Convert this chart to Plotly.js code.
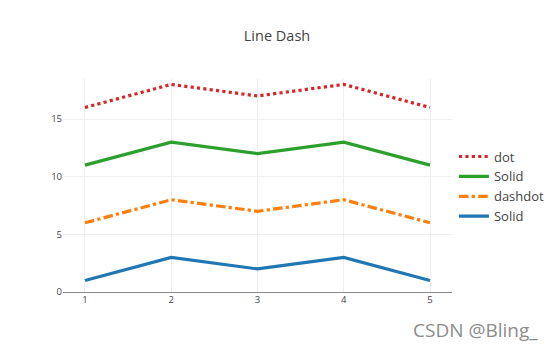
<!DOCTYPE html>
<html>
<head>
<meta charset="utf-8">
<script src="https://cdn.plot.ly/plotly-3.0.1.min.js"></script>
<style>html,body{margin:0;padding:0;background:#fff;}#chart{width:554px;height:356px;}</style>
</head>
<body>
<div id="chart"></div>
<script>
const xValues = [1, 2, 3, 4, 5];
const seriesNames = ["Solid", "dashdot", "Solid", "dot"];
const seriesValues = [
  [1, 3, 2, 3, 1],
  [6, 8, 7, 8, 6],
  [11, 13, 12, 13, 11],
  [16, 18, 17, 18, 16]
];
const seriesColors = ["#1f77b4", "#ff7f0e", "#2ca02c", "#d62728"];
const seriesDash = ["solid", "dashdot", "solid", "dot"];
const yTicks = [0, 5, 10, 15];

const traces = seriesValues.map((ys, i) => ({
  x: xValues,
  y: ys,
  name: seriesNames[i],
  type: "scatter",
  mode: "lines",
  line: {color: seriesColors[i], width: 3.2, dash: seriesDash[i]}
}));

const layout = {
  width: 554,
  height: 356,
  margin: {l: 63, r: 102, t: 79, b: 64, autoexpand: false},
  paper_bgcolor: "#fff",
  plot_bgcolor: "#fff",
  font: {family: "Open Sans, Verdana, Arial, sans-serif", color: "#444", size: 9.5},
  title: {text: "Line Dash", font: {size: 14.5, color: "#444"}, x: 0.5, xref: "container", xanchor: "center", y: 0.9, yref: "container", yanchor: "middle"},
  xaxis: {range: [0.745, 5.255], tickvals: xValues, gridcolor: "#eee", zeroline: false, showline: false, ticks: ""},
  yaxis: {range: [0, 18.47], tickvals: yTicks, gridcolor: "#eee", zeroline: true, zerolinecolor: "#888", zerolinewidth: 1, ticks: ""},
  legend: {traceorder: "reversed", x: 1.005, xanchor: "left", y: 0.495, yanchor: "middle", font: {size: 13, color: "#444"}, itemwidth: 30},
  annotations: [{
    text: "CSDN @Bling_", xref: "paper", yref: "paper", x: 1.06, y: -0.18, xanchor: "center", yanchor: "middle",
    showarrow: false, font: {size: 19, color: "#8c8c8c"}
  }]
};

Plotly.newPlot("chart", traces, layout, {displayModeBar: false, staticPlot: true});
</script>
</body>
</html>
